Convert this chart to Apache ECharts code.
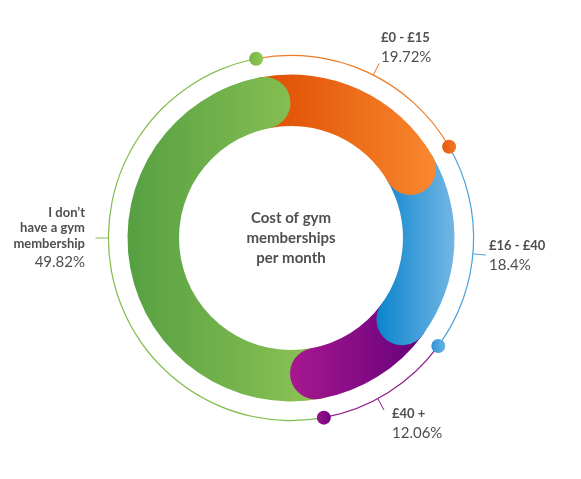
<!DOCTYPE html>
<html><head><meta charset="utf-8">
<script src="https://cdn.jsdelivr.net/npm/echarts@6.0.0/dist/echarts.min.js"></script>
<style>html,body{margin:0;padding:0;background:#fff}#c{width:581px;height:479px}</style>
</head><body><div id="c"></div>
<script>
// ---- data ----
const categories = ['£0 - £15', '£16 - £40', '£40 +', 'I don\u2019t\nhave a gym\nmembership'];
const values = [19.72, 18.4, 12.06, 49.82];
const valueLabels = values.map(v => v + '%');
const titleLines = ['Cost of gym', 'memberships', 'per month'];

// ---- layout / style ----
const CX = 291, CY = 238;
const R_IN = 112, R_OUT = 163.5, R_LINE = 182.6, R_TICK = 195.5;
const START = 101;               // angle (deg, math) where the first slice begins
const CAP_SPAN = 4;              // overlay so the last slice's cap covers the first slice
const tickAngles = [26.8, 95, 151.6, 270];   // clockwise from 12 o'clock
const labelPos = [
  {x: 381, y1: 38, y2: 57, align: 'left'},
  {x: 489, y1: 246, y2: 265, align: 'left'},
  {x: 392, y1: 414, y2: 433, align: 'left'},
  {x: 85, y1: 228, y2: 262, align: 'right'}
];
const lineColors = ['#f07a26', '#47a2dc', '#8c1a89', '#80bd4b'];
const TEXT = '#4f4f4f';
const FONT = 'Lato, "Open Sans", sans-serif';

function lin(c0, c1) {
  return {type: 'linear', x: 0, y: 0, x2: 1, y2: 0,
    colorStops: [{offset: 0, color: c0}, {offset: 1, color: c1}]};
}
const greenGlobal = {type: 'linear', x: CX - R_OUT, y: 0, x2: CX + 50, y2: 0, global: true,
  colorStops: [{offset: 0, color: '#56a042'}, {offset: 1, color: '#93c756'}]};
const ringFills = [
  {type: 'linear', x: 0, y: 0, x2: 1, y2: 0, colorStops: [
    {offset: 0, color: '#dc4e06'}, {offset: 0.28, color: '#e3580a'}, {offset: 1, color: '#f98830'}]},
  lin('#0a84cd', '#74b6e4'),
  lin('#a8188f', '#62007a'),
  greenGlobal
];
const dotFills = [
  lin('#e55a0c', '#f5782a'),
  lin('#2f92d6', '#6ab5e6'),
  lin('#9a1290', '#6f0479'),
  lin('#74b444', '#95c85a')
];

const total = values.reduce((a, b) => a + b, 0);
const cum = [];
values.reduce((a, v, i) => (cum[i] = a + v), 0);

const series = [];
values.forEach((v, i) => {
  series.push({
    type: 'bar', coordinateSystem: 'polar', polarIndex: 0, stack: 'ring',
    data: [v], roundCap: true, barWidth: '100%',
    z: 10 - i, silent: true, itemStyle: {color: ringFills[i]}
  });
});
// overlay (own polar): the end cap of the last slice lies on top of the first slice
series.push({
  type: 'bar', coordinateSystem: 'polar', polarIndex: 2, stack: 'cap',
  data: [total - CAP_SPAN], barWidth: '100%', z: 1, silent: true,
  itemStyle: {color: 'rgba(0,0,0,0)'}
});
series.push({
  type: 'bar', coordinateSystem: 'polar', polarIndex: 2, stack: 'cap',
  data: [CAP_SPAN], roundCap: true, barWidth: '100%', z: 11, silent: true,
  itemStyle: {color: greenGlobal}
});
// outer thin ring
values.forEach((v, i) => {
  series.push({
    type: 'bar', coordinateSystem: 'polar', polarIndex: 1, stack: 'outer',
    data: [v], barWidth: '100%', z: 12, silent: true, itemStyle: {color: lineColors[i]}
  });
});
// dots at the end of each slice on the outer ring
series.push({
  type: 'scatter', coordinateSystem: 'polar', polarIndex: 1, symbolSize: 14, z: 20, silent: true,
  itemStyle: {opacity: 1},
  data: cum.map((c, i) => ({value: ['a', c], itemStyle: {color: dotFills[i], opacity: 1}}))
});

// graphics: ticks, labels, title
const graphic = [];
function pt(r, deg) {
  const a = deg * Math.PI / 180;
  return [CX + r * Math.sin(a), CY - r * Math.cos(a)];
}
tickAngles.forEach((d, i) => {
  const p0 = pt(R_LINE, d), p1 = pt(R_TICK, d);
  graphic.push({type: 'line', shape: {x1: p0[0], y1: p0[1], x2: p1[0], y2: p1[1]},
    style: {stroke: lineColors[i], lineWidth: 1}, silent: true, z: 30});
  const L = labelPos[i];
  graphic.push({type: 'text', x: L.x, y: L.y1, silent: true, z: 30,
    style: {text: categories[i], fill: TEXT, font: 'bold 13px ' + FONT,
      textAlign: L.align, textVerticalAlign: 'middle', lineHeight: 15.5}});
  graphic.push({type: 'text', x: L.x, y: L.y2, silent: true, z: 30,
    style: {text: valueLabels[i], fill: TEXT, font: '15px ' + FONT,
      textAlign: L.align, textVerticalAlign: 'middle'}});
});
graphic.push({type: 'text', x: CX, y: CY, silent: true, z: 30,
  style: {text: titleLines.join('\n'), fill: TEXT, font: 'bold 15px ' + FONT,
    textAlign: 'center', textVerticalAlign: 'middle', lineHeight: 20}});

const option = {
  animation: false,
  polar: [
    {center: [CX, CY], radius: [R_IN, R_OUT]},
    {center: [CX, CY], radius: [R_LINE - 0.6, R_LINE + 0.6]},
    {center: [CX, CY], radius: [R_IN, R_OUT]}
  ],
  angleAxis: [0, 1, 2].map(k => ({polarIndex: k, type: 'value', min: 0, max: total,
    startAngle: START, clockwise: true, show: false})),
  radiusAxis: [0, 1, 2].map(k => ({polarIndex: k, type: 'category', data: ['a'], show: false})),
  series: series,
  graphic: graphic
};
const chart = echarts.init(document.getElementById('c'));
chart.setOption(option);
</script>
</body></html>
